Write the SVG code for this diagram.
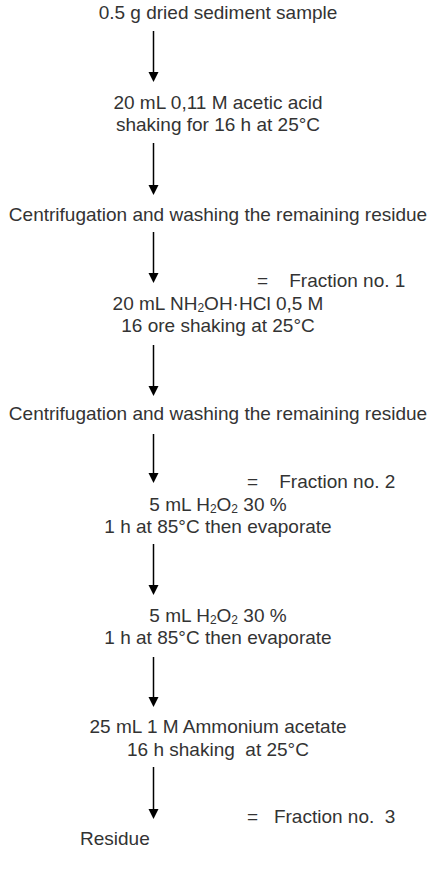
<svg xmlns="http://www.w3.org/2000/svg" width="427" height="870" viewBox="0 0 427 870">
<defs>
<style>
text{font-family:"Liberation Sans",Arial,sans-serif;font-size:19px;fill:#333333;}
.c{text-anchor:middle;}
.s{font-size:12px;baseline-shift:-2px;}
.conn line{stroke:#000;stroke-width:1.5;}
.conn path{fill:#000;stroke:none;}
</style>
</defs>
<rect width="427" height="870" fill="#ffffff"/>
<g id="n1"><text class="c" x="218" y="19">0.5 g dried sediment sample</text></g>
<g id="n2"><text class="c" x="218" y="109">20 mL 0,11 M acetic acid</text><text class="c" x="218" y="131">shaking for 16 h at 25°C</text></g>
<g id="n3"><text class="c" x="218" y="221">Centrifugation and washing the remaining residue</text></g>
<g id="f1"><text x="257" y="287" xml:space="preserve">=    Fraction no. 1</text></g>
<g id="n4"><text class="c" x="218" y="310">20 mL NH<tspan class="s">2</tspan>OH·HCl 0,5 M</text><text class="c" x="218" y="332">16 ore shaking at 25°C</text></g>
<g id="n5"><text class="c" x="218" y="420">Centrifugation and washing the remaining residue</text></g>
<g id="f2"><text x="247" y="488" xml:space="preserve">=    Fraction no. 2</text></g>
<g id="n6"><text class="c" x="218" y="511">5 mL H<tspan class="s">2</tspan>O<tspan class="s">2</tspan> 30 %</text><text class="c" x="218" y="533">1 h at 85°C then evaporate</text></g>
<g id="n7"><text class="c" x="218" y="622">5 mL H<tspan class="s">2</tspan>O<tspan class="s">2</tspan> 30 %</text><text class="c" x="218" y="644">1 h at 85°C then evaporate</text></g>
<g id="n8"><text class="c" x="218" y="733" xml:space="preserve">25 mL 1 M Ammonium acetate</text><text class="c" x="218" y="756" xml:space="preserve">16 h shaking  at 25°C</text></g>
<g id="f3"><text x="247" y="823" xml:space="preserve">=   Fraction no.  3</text></g>
<g id="n9"><text x="80" y="845">Residue</text></g>
<g id="connectors" class="conn">
<line x1="153.5" y1="31" x2="153.5" y2="73"/><path d="M148.5,72 L158.5,72 L153.5,82 Z"/>
<line x1="153.5" y1="143" x2="153.5" y2="186"/><path d="M148.5,185 L158.5,185 L153.5,195 Z"/>
<line x1="153.5" y1="232" x2="153.5" y2="274"/><path d="M148.5,273 L158.5,273 L153.5,283 Z"/>
<line x1="153.5" y1="345" x2="153.5" y2="387"/><path d="M148.5,386 L158.5,386 L153.5,396 Z"/>
<line x1="153.5" y1="434" x2="153.5" y2="474"/><path d="M148.5,473 L158.5,473 L153.5,483 Z"/>
<line x1="153.5" y1="544" x2="153.5" y2="586"/><path d="M148.5,585 L158.5,585 L153.5,595 Z"/>
<line x1="153.5" y1="657" x2="153.5" y2="698"/><path d="M148.5,697 L158.5,697 L153.5,707 Z"/>
<line x1="153.5" y1="767" x2="153.5" y2="810"/><path d="M148.5,809 L158.5,809 L153.5,819 Z"/>
</g>
</svg>
